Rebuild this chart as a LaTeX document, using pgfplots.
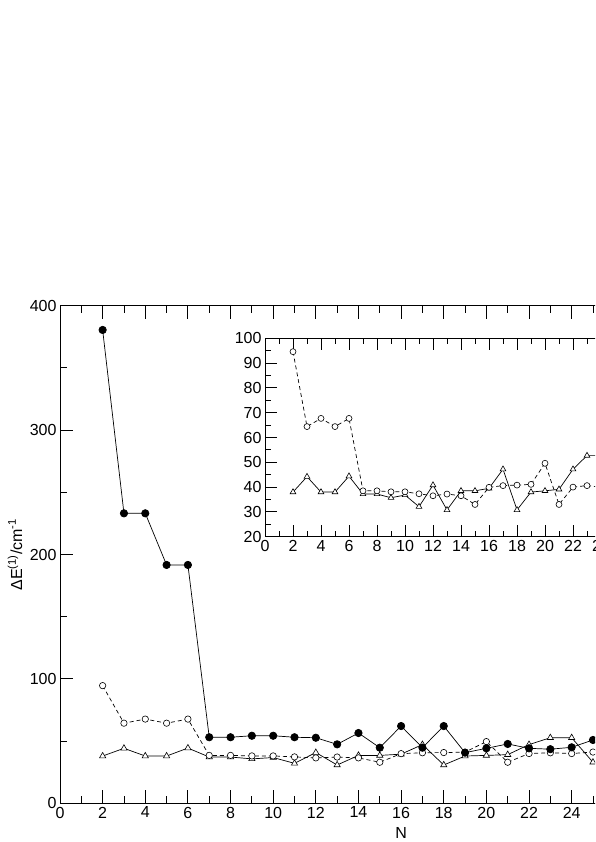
\documentclass[border=0pt]{standalone}
\usepackage{fontspec}
\setmainfont{Liberation Sans}
\usepackage{pgfplots}
\pgfplotsset{compat=1.18}

\pgfplotsset{
  grbase/.style={
    scale only axis,
    axis line style={line width=0.9pt},
    every tick/.style={line width=0.9pt, black},
    tick align=inside,
    font=\fontsize{16}{19}\selectfont,
    /pgf/number format/assume math mode=true,
    minor y tick num=1,
  },
  tri/.style={black, line width=0.7pt, mark=triangle*, mark size=3.6pt,
              mark options={solid, fill=white, line width=0.6pt}},
  opn/.style={black, line width=0.7pt, dash pattern=on 4pt off 3pt,
              mark=*, mark size=3.2pt, mark options={solid, fill=white, line width=0.6pt}},
  fil/.style={black, line width=0.7pt, mark=*, mark size=3.7pt,
              mark options={solid, fill=black}},
}

\begin{document}
\begin{tikzpicture}
\useasboundingbox (0,0) rectangle (595pt,842pt);
\clip (0,0) rectangle (595pt,842pt);

% main axis
\begin{axis}[grbase,
  at={(60pt,38.7pt)}, anchor=south west,
  width=682.2pt, height=497.6pt,
  xmin=0, xmax=32, ymin=0, ymax=400,
  xtick={0,2,...,24}, minor xtick={1,3,...,25}, ytick={0,100,...,400},
  major tick length=13pt, minor tick length=7pt,
  xlabel={N},
  ylabel={ΔE\textsuperscript{(1)}/cm\textsuperscript{-1}},
  every axis x label/.style={at={(axis description cs:0.5,0)}, yshift=-30pt, anchor=center},
  every axis y label/.style={at={(axis description cs:0,0.5)}, xshift=-45pt, rotate=90, anchor=center},
]
\addplot[tri] coordinates {
  (2,38) (3,44.2) (4,38) (5,38) (6,44.4) (7,37.2) (8,37.2) (9,35.7)
  (10,36.8) (11,32.1) (12,40.8) (13,30.8) (14,38.5) (15,38.5) (16,39.5)
  (17,47.2) (18,30.8) (19,38) (20,38.5) (21,39.1) (22,47.2) (23,52.7)
  (24,52.7) (25,33)};
\addplot[opn] coordinates {
  (2,94.6) (3,64.4) (4,67.7) (5,64.4) (6,67.7) (7,38.5) (8,38.5) (9,38.1)
  (10,38.1) (11,37.3) (12,36.5) (13,37.2) (14,36.5) (15,33) (16,39.9)
  (17,40.6) (18,40.8) (19,41.1) (20,49.6) (21,33) (22,40) (23,40.6)
  (24,40) (25,41.2)};
\addplot[fil] coordinates {
  (2,380.5) (3,233.1) (4,233.1) (5,191.6) (6,191.6) (7,53.1) (8,53.1)
  (9,54.3) (10,54.3) (11,53.1) (12,52.7) (13,47.4) (14,56.5) (15,44.7)
  (16,62.1) (17,44.7) (18,62.1) (19,40.7) (20,44.2) (21,47.7) (22,44.2)
  (23,43.5) (24,45) (25,50.9)};
\end{axis}

% inset
\begin{axis}[grbase,
  at={(265pt,305.3pt)}, anchor=south west,
  width=420pt, height=198.4pt,
  xmin=0, xmax=30, ymin=20, ymax=100,
  xtick={0,2,...,24}, minor xtick={1,3,...,25}, ytick={20,30,...,100},
  major tick length=12pt, minor tick length=5.5pt,
  axis background/.style={fill=white},
]
\addplot[tri, mark size=3.3pt] coordinates {
  (2,38) (3,44.2) (4,38) (5,38) (6,44.4) (7,37.2) (8,37.2) (9,35.7)
  (10,36.8) (11,32.1) (12,40.8) (13,30.8) (14,38.5) (15,38.5) (16,39.5)
  (17,47.2) (18,30.8) (19,38) (20,38.5) (21,39.1) (22,47.2) (23,52.7)
  (24,52.7) (25,33)};
\addplot[opn, mark size=3pt] coordinates {
  (2,94.6) (3,64.4) (4,67.7) (5,64.4) (6,67.7) (7,38.5) (8,38.5) (9,38.1)
  (10,38.1) (11,37.3) (12,36.5) (13,37.2) (14,36.5) (15,33) (16,39.9)
  (17,40.6) (18,40.8) (19,41.1) (20,49.6) (21,33) (22,40) (23,40.6)
  (24,40) (25,41.2)};
\end{axis}
\end{tikzpicture}
\end{document}
